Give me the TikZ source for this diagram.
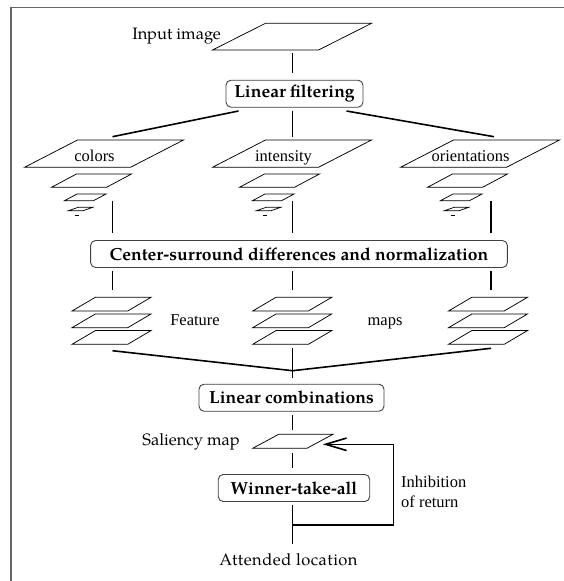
\documentclass[tikz,border=0pt]{standalone}
\usepackage{fontspec}
\setmainfont{TeX Gyre Pagella}
\newfontfamily\tms{Liberation Serif}
\usetikzlibrary{arrows.meta}

% parallelogram "plate": bottom-left x, bottom y, width, skew, height
\newcommand\plate[5]{\draw[plate] (#1,#2) -- ++(#3,0) -- ++(#4,-#5) -- ++(-#3,0) -- cycle;}
% multi-scale pyramid, argument = bottom-left x of the largest plate
\newcommand\pyramid[1]{%
  \plate{#1}{167.3}{106}{53}{27.3}
  \plate{#1+27}{187.3}{55}{25}{13.3}
  \plate{#1+40}{200.7}{29}{12.5}{6.7}
  \plate{#1+44}{210.7}{14.5}{9.7}{3.4}
  \draw[plate] (#1+50,215.7) -- ++(4,0);}
% stack of three feature maps, argument = bottom-left x
\newcommand\fstack[1]{%
  \plate{#1}{311}{55.7}{23.3}{13.7}
  \plate{#1}{327.7}{55.7}{23.3}{13.7}
  \plate{#1}{344.3}{55.7}{23.3}{13.7}}

\begin{document}
\begin{tikzpicture}[x=1pt,y=-1pt,
  plate/.style={draw=black, line width=0.75pt, line join=miter},
  conn/.style={draw=black, line width=1.6pt},
  frame/.style={draw=black!60, line width=1.6pt},
  stage/.style={draw=black!75, line width=0.9pt, rounded corners=5pt, inner sep=0pt,
    font=\fontsize{17.5}{20}\selectfont\bfseries, minimum height=27pt},
  tlabel/.style={inner sep=0pt, font=\tms\fontsize{16.5}{19}\selectfont},
  plabel/.style={inner sep=0pt, font=\fontsize{16.5}{19}\selectfont},
]
\useasboundingbox (0,0) rectangle (564,581);

% frame (top and left edges only)
\draw[frame] (11,581) -- (11,7.5) -- (564,7.5);

% input image
\plate{212.5}{50}{106}{53}{26.7}
\node[plabel, anchor=base east] (lblinput) at (221,39.5) {Input image};

% stage boxes
\node[stage, minimum width=137pt] (filt) at (294.5,93.7) {Linear filtering};
\node[stage, minimum width=416.8pt] (csd) at (299,254) {Center-surround differences and normalization};
\node[stage, minimum width=185pt] (lincomb) at (291.5,397.7) {Linear combinations};
\node[stage, minimum width=151.5pt] (wta) at (294,488) {Winner-take-all};

% feature channels
\pyramid{24.5}
\pyramid{212.5}
\pyramid{400.5}
\node[tlabel, anchor=base] (lblcolors) at (94.5,161.5) {colors};
\node[tlabel, anchor=base] (lblint) at (283.5,161.5) {intensity};
\node[tlabel, anchor=base] (lblori) at (470.5,161.5) {orientations};

% feature maps
\fstack{72}
\fstack{252.7}
\fstack{448.5}
\node[tlabel, anchor=base] (lblfeat) at (195,325.7) {Feature};
\node[tlabel, anchor=base] (lblmaps) at (385,325.7) {maps};

% saliency map
\plate{252.7}{448.3}{54.2}{26}{14}
\node[plabel, anchor=base east] (lblsal) at (240,445) {Saliency map};

% output
\node[plabel, anchor=base] (lblatt) at (288.5,565) {\addfontfeature{LetterSpace=3}Attended location};
\node[tlabel, anchor=base west] (lblinh1) at (401,487.7) {Inhibition};
\node[tlabel, anchor=base west] (lblinh2) at (401,507.3) {of return};

% connector end points
\coordinate (inB) at (292.6,53.3);
\coordinate (filtT) at (292.6,73.3);
\coordinate (filtBL) at (238.5,111);
\coordinate (filtBC) at (292.6,110.7);
\coordinate (filtBR) at (346.5,111);
\coordinate (colT) at (112.5,136.7);
\coordinate (intT) at (292.6,136.7);
\coordinate (oriT) at (494,136.7);
\coordinate (colB) at (112.5,200.7);
\coordinate (intB) at (292.6,200.7);
\coordinate (oriB) at (491,200.7);
\coordinate (csdTL) at (112.5,232.7);
\coordinate (csdTC) at (292.6,232.7);
\coordinate (csdTR) at (491,232.7);
\coordinate (csdBL) at (112.5,271);
\coordinate (csdBC) at (292.6,271);
\coordinate (csdBR) at (491,271);
\coordinate (fstL) at (112.5,290);
\coordinate (fstC) at (292.6,290);
\coordinate (fstR) at (491,290);
\coordinate (mapL) at (112.5,350.7);
\coordinate (mapC) at (292.6,348.3);
\coordinate (mapR) at (491,348.3);
\coordinate (join) at (292.6,370.7);
\coordinate (lcT) at (292.6,377.7);
\coordinate (lcB) at (292.6,415);
\coordinate (salT) at (292.6,430);
\coordinate (salB) at (292.6,453.3);
\coordinate (wtaT) at (292.6,468.3);
\coordinate (wtaB) at (292.6,505);
\coordinate (attT) at (292.6,544.3);
\coordinate (fbA) at (292.6,525);
\coordinate (fbB) at (393.3,525);
\coordinate (fbC) at (393.3,444.3);
\coordinate (fbTip) at (322.8,444.3);

% connectors
\draw[conn] (inB) -- (filtT);
\draw[conn] (filtBL) -- (colT);
\draw[conn] (filtBC) -- (intT);
\draw[conn] (filtBR) -- (oriT);
\draw[conn] (colB) -- (csdTL);
\draw[conn] (intB) -- (csdTC);
\draw[conn] (oriB) -- (csdTR);
\draw[conn] (csdBL) -- (fstL);
\draw[conn] (csdBC) -- (fstC);
\draw[conn] (csdBR) -- (fstR);
\draw[conn] (mapL) -- (join) -- (mapR);
\draw[conn] (mapC) -- (lcT);
\draw[conn] (lcB) -- (salT);
\draw[conn] (salB) -- (wtaT);
\draw[conn] (wtaB) -- (attT);
\draw[conn, line join=miter, -{Straight Barb[length=21pt,width=12.5pt]}]
  (fbA) -- (fbB) -- (fbC) -- (fbTip);
\end{tikzpicture}
\end{document}
